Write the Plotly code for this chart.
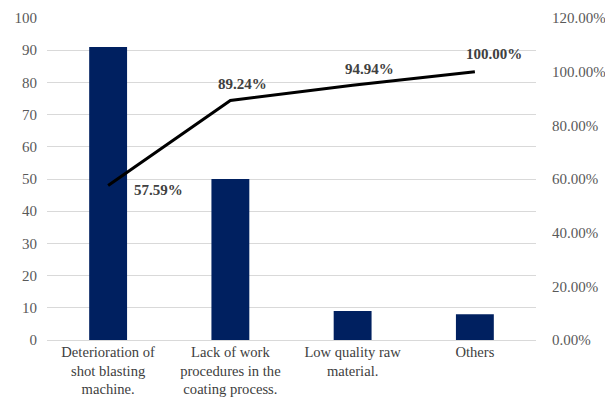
import plotly.graph_objects as go

categories = ["Deterioration of<br>shot blasting<br>machine.",
              "Lack of work<br>procedures in the<br>coating process.",
              "Low quality raw<br>material.",
              "Others"]
counts = [91, 50, 9, 8]
cumulative = [0.5759, 0.8924, 0.9494, 1.0]
cum_labels = ["57.59%", "89.24%", "94.94%", "100.00%"]
label_xshift = [50, 12, 17, 19]
label_yshift = [-5, 17, 16, 18]

FONT = "Liberation Serif, Times New Roman, serif"
fig = go.Figure()
fig.add_trace(go.Bar(x=categories, y=counts, marker=dict(color="#002060", line_width=0),
                     width=0.31, showlegend=False))
fig.add_trace(go.Scatter(x=categories, y=cumulative, yaxis="y2", mode="lines",
                         line=dict(color="#000000", width=3), showlegend=False))
for c, v, t, dx, dy in zip(categories, cumulative, cum_labels, label_xshift, label_yshift):
    fig.add_annotation(x=c, y=v, xref="x", yref="y2", text="<b>%s</b>" % t, showarrow=False,
                       xshift=dx, yshift=dy, font=dict(family=FONT, size=15, color="#404040"))

fig.update_layout(
    width=605, height=398, margin=dict(l=47, r=69, t=18, b=58, autoexpand=False),
    paper_bgcolor="white", plot_bgcolor="white",
    font=dict(family=FONT, size=15, color="#595959"),
    xaxis=dict(showgrid=False, showline=True, linecolor="#d9d9d9", linewidth=1,
               ticks="", automargin=False, ticklabelstandoff=-2,
               tickfont=dict(family=FONT, size=14.6, color="#404040")),
    yaxis=dict(range=[0, 100], dtick=10, showgrid=True, gridcolor="#d9d9d9", gridwidth=1,
               zeroline=False, ticks="", ticklabelstandoff=9, automargin=False,
               tickfont=dict(family=FONT, size=15, color="#595959")),
    yaxis2=dict(range=[0, 1.2], dtick=0.2, overlaying="y", side="right", showgrid=False,
                zeroline=False, tickformat=".2%", ticks="", ticklabelstandoff=15,
                automargin=False,
                tickfont=dict(family=FONT, size=15, color="#595959")),
)
fig.write_html("out.html")
